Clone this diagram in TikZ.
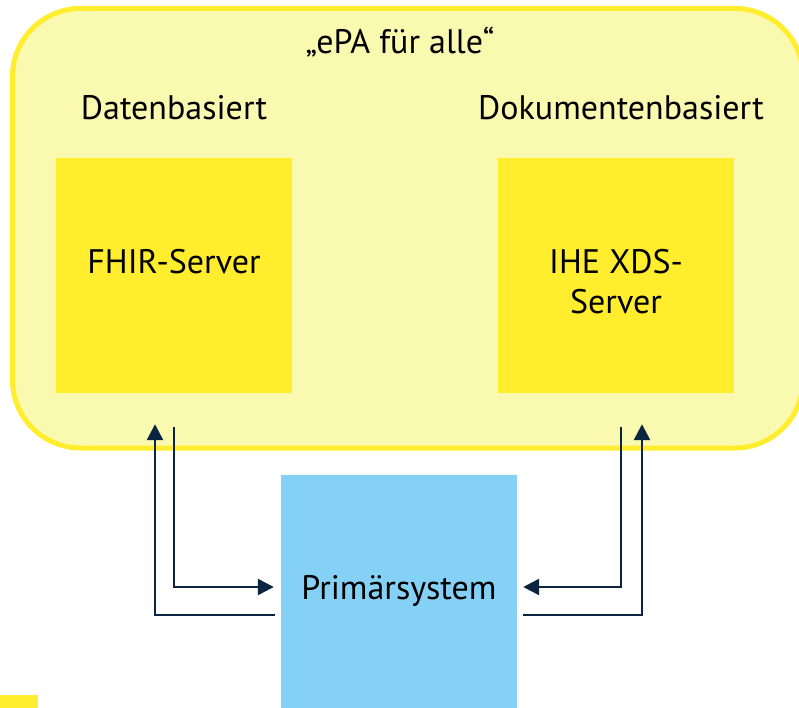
\documentclass[tikz,border=0pt]{standalone}
\usepackage{fontspec}
\setmainfont{PT Sans}
\usetikzlibrary{arrows.meta,calc}
\definecolor{paleyellow}{HTML}{F9F9B0}
\definecolor{brightyellow}{HTML}{FFED2E}
\definecolor{skyblue}{HTML}{85D1F5}
\definecolor{navy}{HTML}{0B2540}
\tikzset{
  frame/.style={draw=brightyellow,line width=5pt,fill=paleyellow,rounded corners=68pt},
  serverbox/.style={rectangle,fill=brightyellow,minimum width=236pt,minimum height=235pt,inner sep=0pt},
  clientbox/.style={rectangle,fill=skyblue,minimum width=236pt,minimum height=250pt,inner sep=0pt},
  label/.style={font=\fontsize{34}{40}\selectfont,text=black,anchor=base,inner sep=0pt,align=center},
  conn/.style={draw=navy,line width=2.5pt},
  tip/.style={-{Triangle[length=16pt,width=16pt]}}
}
\begin{document}
\begin{tikzpicture}[x=1pt,y=-1pt]
\useasboundingbox (0,0) rectangle (799,708);
\clip (0,0) rectangle (799,708);

% outer container
\draw[frame] (12.5,8.5) rectangle (803,448);

% headings
\node[label] (title) at (400,54) {„ePA für alle“};
\node[label] (left)  at (174,120) {Datenbasiert};
\node[label] (right) at (621,120) {Dokumentenbasiert};

% servers
\node[serverbox] (fhir) at (174,275.5) {};
\node[label] (fhirtext) at (174,273) {FHIR-Server};
\node[serverbox] (xds) at (616,275.5) {};
\node[label] (xdstext) at (616,313) {IHE XDS-\\Server};

% client system
\node[clientbox] (prim) at (399,600) {};
\node[label] (primtext) at (399,599) {Primärsystem};

% small marker at the lower left
\fill[brightyellow] (0,695) rectangle (38,708);

% requests and responses
\draw[conn,tip] ([xshift=-6pt]prim.west |- 0,615) -| ([xshift=-19pt,yshift=-31pt]fhir.south);
\draw[conn,tip] ([yshift=-34pt]fhir.south) |- ([xshift=-7pt]prim.west |- 0,587);
\draw[conn,tip] ([xshift=5pt,yshift=-34pt]xds.south) |- ([xshift=6pt]prim.east |- 0,587);
\draw[conn,tip] ([xshift=6pt]prim.east |- 0,615) -| ([xshift=26pt,yshift=-31pt]xds.south);
\end{tikzpicture}
\end{document}
